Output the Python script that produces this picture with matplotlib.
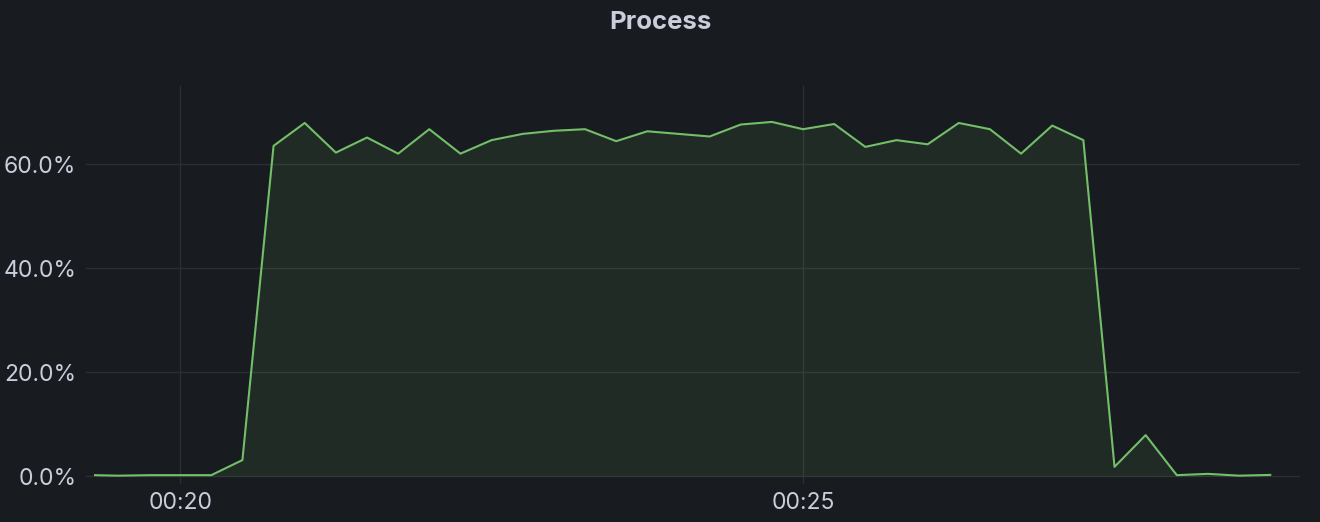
import matplotlib
matplotlib.use('Agg')
import matplotlib.pyplot as plt

# Sample times in seconds relative to 00:20:00, CPU usage in percent
times = [-41, -30, -15, 0, 15, 30, 45, 60, 75, 90, 105, 120, 135, 150, 165,
         180, 195, 210, 225, 240, 255, 270, 285, 300, 315, 330, 345, 360,
         375, 390, 405, 420, 435, 450, 465, 480, 495, 510, 525]
usage = [0.2, 0.1, 0.2, 0.2, 0.2, 3.1, 63.5, 67.9, 62.2, 65.1, 62.0, 66.7,
         62.0, 64.6, 65.8, 66.4, 66.7, 64.4, 66.3, 65.8, 65.3, 67.6, 68.1,
         66.7, 67.7, 63.3, 64.6, 63.8, 67.9, 66.7, 62.0, 67.4, 64.6, 1.8,
         7.9, 0.2, 0.45, 0.1, 0.25]

x_ticks = [0, 300]
x_tick_labels = ['00:20', '00:25']
y_ticks = [0, 20, 40, 60]
y_tick_labels = ['0.0%', '20.0%', '40.0%', '60.0%']

bg = '#181b1f'
text_color = '#ccccdc'
grid_color = '#2c2e33'
line_color = '#73bf69'

plt.rcParams['font.family'] = ['Inter', 'DejaVu Sans']

fig = plt.figure(figsize=(13.2, 5.22), dpi=100, facecolor=bg)
ax = fig.add_axes([0.0652, 0.0728, 0.9196, 0.7624], facecolor=bg)

ax.fill_between(times, usage, 0, color=line_color, alpha=0.1, linewidth=0)
ax.plot(times, usage, color=line_color, linewidth=1.5)

ax.set_xlim(-45.3, 539.3)
ax.set_ylim(-1.5, 75)
ax.set_xticks(x_ticks)
ax.set_xticklabels(x_tick_labels)
ax.set_yticks(y_ticks)
ax.set_yticklabels(y_tick_labels)

ax.grid(True, color=grid_color, linewidth=1)
ax.set_axisbelow(True)
for s in ax.spines.values():
    s.set_visible(False)
ax.tick_params(length=0, colors=text_color, labelsize=16.5)
ax.tick_params(axis='y', pad=7)
ax.tick_params(axis='x', pad=6)

fig.text(0.5, 0.9444, 'Process', ha='center', va='baseline', color=text_color,
         fontsize=18.5, fontweight='bold')

fig.savefig('out.png', facecolor=bg)
